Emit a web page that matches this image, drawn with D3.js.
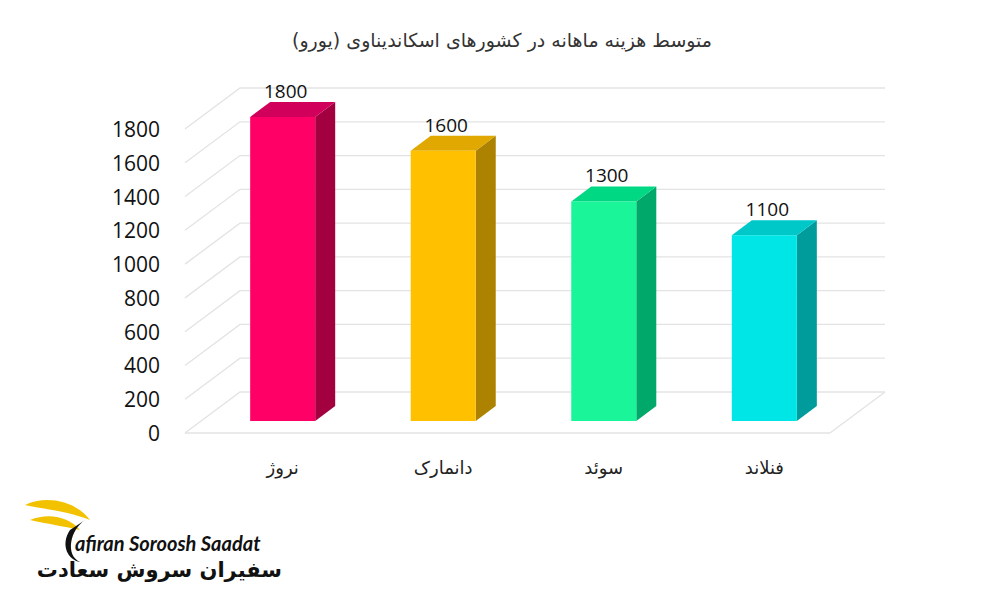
<!DOCTYPE html><html><head><meta charset="utf-8"><script src="https://cdn.jsdelivr.net/npm/d3@7"></script>
<style>body{margin:0;background:#fff}</style></head><body><svg id="c" width="1000" height="600"></svg>
<script>
const categories=["نروژ","دانمارک","سوئد","فنلاند"];
const values=[1800,1600,1300,1100];
const ticks=[0,200,400,600,800,1000,1200,1400,1600,1800];
const fronts=["#FF0066","#FFC000","#1AF59A","#00E6E6"];
const sides=["#A3003F","#AD8200","#00A86A","#009C9C"];
const tops=["#D1005A","#E0A800","#00D884","#00C8C8"];
const svg=d3.select("#c");
const y=d3.scaleLinear().domain([0,1800]).range([433,129]);
const x=d3.scaleBand().domain(categories).range([202,845]).paddingInner(0.595).paddingOuter(0.3);
const ddx=55,ddy=-41;
const g=svg.append("g");
ticks.forEach(t=>{const yy=y(t);
 g.append("path").attr("d",`M185,${yy}L${185+ddx},${yy+ddy}L885,${yy+ddy}`).attr("fill","none").attr("stroke","#e3e3e3").attr("stroke-width",1.3);});
g.append("line").attr("x1",185).attr("x2",830).attr("y1",433).attr("y2",433).attr("stroke","#e3e3e3").attr("stroke-width",1.3);
g.append("line").attr("x1",830).attr("x2",885).attr("y1",433).attr("y2",392).attr("stroke","#e3e3e3").attr("stroke-width",1.3);
svg.selectAll(".yl").data(ticks).enter().append("text").attr("x",160).attr("y",d=>y(d)+8).attr("text-anchor","end")
 .attr("font-family","Open Sans, sans-serif").attr("font-size",21).attr("fill","#111").text(d=>d);
const off=-12,sdx=20,sdy=-15,odx=0;
categories.forEach((c,i)=>{const x0=x(c)+odx,w=x.bandwidth(),yb=y(0)+off,yt=y(values[i])+off;
 svg.append("path").attr("d",`M${x0+w},${yb}L${x0+w+sdx},${yb+sdy}L${x0+w+sdx},${yt+sdy}L${x0+w},${yt}Z`).attr("fill",sides[i]);
 svg.append("path").attr("d",`M${x0},${yt}L${x0+sdx},${yt+sdy}L${x0+w+sdx},${yt+sdy}L${x0+w},${yt}Z`).attr("fill",tops[i]);
 svg.append("rect").attr("x",x0).attr("y",yt).attr("width",w).attr("height",yb-yt).attr("fill",fronts[i]);
 svg.append("text").attr("x",x0+w/2+3).attr("y",yt+sdy-4).attr("text-anchor","middle").attr("font-family","Open Sans, sans-serif").attr("font-size",19).attr("fill","#111").text(values[i]);
 svg.append("text").attr("x",x0+w/2).attr("y",474).attr("text-anchor","middle").attr("font-family","DejaVu Sans, sans-serif").attr("font-size",18).attr("fill","#222").text(c);
});
svg.append("text").attr("x",502).attr("y",47).attr("text-anchor","middle").attr("font-family","DejaVu Sans, sans-serif").attr("font-size",19).attr("fill","#333").attr("direction","rtl").text("متوسط هزینه ماهانه در کشورهای اسکاندیناوی (یورو)");
// logo
const lg=svg.append("g");
lg.append("path").attr("d","M25,505 C45,495 75,500 90,520 C70,512 50,510 25,505Z").attr("fill","#F2C200");
lg.append("path").attr("d","M30,520 C50,512 70,518 80,530 C62,526 48,524 30,520Z").attr("fill","#F2C200");
lg.append("path").attr("d","M85,520 C70,530 65,555 80,562 C68,560 60,545 70,530Z").attr("fill","#111");
lg.append("text").attr("x",75).attr("y",551).attr("font-family","Lato, sans-serif").attr("font-style","italic").attr("font-weight","bold").attr("font-size",20).attr("fill","#111").text("afiran Soroosh Saadat");
lg.append("text").attr("x",282).attr("y",577).attr("text-anchor","end").attr("font-family","DejaVu Sans, sans-serif").attr("font-weight","bold").attr("font-size",21).attr("fill","#111").text("سفیران سروش سعادت");
</script></body></html>
